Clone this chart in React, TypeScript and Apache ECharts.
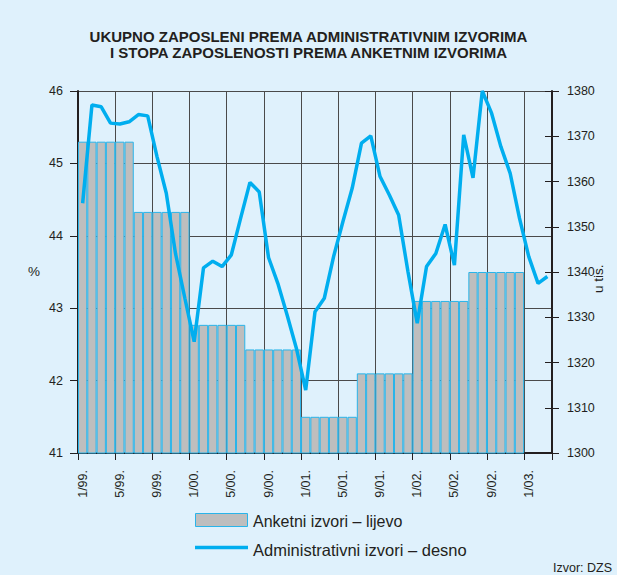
import React, { useEffect, useRef } from "react";
import * as echarts from "echarts";

const months = [
  "1/99.", "2/99.", "3/99.", "4/99.", "5/99.", "6/99.", "7/99.", "8/99.", "9/99.", "10/99.", "11/99.", "12/99.",
  "1/00.", "2/00.", "3/00.", "4/00.", "5/00.", "6/00.", "7/00.", "8/00.", "9/00.", "10/00.", "11/00.", "12/00.",
  "1/01.", "2/01.", "3/01.", "4/01.", "5/01.", "6/01.", "7/01.", "8/01.", "9/01.", "10/01.", "11/01.", "12/01.",
  "1/02.", "2/02.", "3/02.", "4/02.", "5/02.", "6/02.", "7/02.", "8/02.", "9/02.", "10/02.", "11/02.", "12/02.",
  "1/03.", "2/03.", "3/03.",
];

// Anketni izvori (%), left axis – one value per month (half-year survey)
const anketni = [
  45.3, 45.3, 45.3, 45.3, 45.3, 45.3, 44.33, 44.33, 44.33, 44.33, 44.33, 44.33,
  42.77, 42.77, 42.77, 42.77, 42.77, 42.77, 42.43, 42.43, 42.43, 42.43, 42.43, 42.43,
  41.5, 41.5, 41.5, 41.5, 41.5, 41.5, 42.1, 42.1, 42.1, 42.1, 42.1, 42.1,
  43.1, 43.1, 43.1, 43.1, 43.1, 43.1, 43.5, 43.5, 43.5, 43.5, 43.5, 43.5,
];

// Administrativni izvori (u tis.), right axis
const administrativni = [
  1355.2, 1376.9, 1376.5, 1372.9, 1372.7, 1373.2, 1374.8, 1374.5, 1365.5, 1357.4, 1344.0, 1334.2,
  1324.6, 1340.9, 1342.4, 1341.2, 1343.8, 1351.9, 1359.8, 1357.7, 1343.2, 1337.5, 1330.5, 1323.1,
  1313.9, 1331.2, 1334.2, 1343.4, 1351.1, 1358.5, 1368.5, 1370.1, 1361.1, 1357.0, 1352.6, 1340.1,
  1328.7, 1341.2, 1344.1, 1350.5, 1341.5, 1370.3, 1360.8, 1380.0, 1375.1, 1367.7, 1361.8, 1351.9,
  1343.4, 1337.5, 1339.0,
];

const titleLines = [
  "UKUPNO ZAPOSLENI PREMA ADMINISTRATIVNIM IZVORIMA",
  "I STOPA ZAPOSLENOSTI PREMA ANKETNIM IZVORIMA",
];
const seriesNames = ["Anketni izvori – lijevo", "Administrativni izvori – desno"];

const BG = "#dff1fc";
const DARK = "#231f20";
const GRID = "#4a4a4a";
const BLUE = "#00aeef";
const BAR_BORDER = "#2ab4e9";
const BAR_FILL = "#bebebe";
const FONT = "Liberation Sans";

export default function App() {
  const ref = useRef<HTMLDivElement>(null);

  useEffect(() => {
    document.body.style.margin = "0";
    document.body.style.background = BG;
    const chart = echarts.init(ref.current!, null, { renderer: "svg" });
    chart.setOption({
      animation: false,
      backgroundColor: BG,
      textStyle: { fontFamily: FONT },
      title: {
        text: titleLines.join("\n"),
        left: "center",
        top: 24,
        textStyle: {
          fontFamily: FONT,
          fontSize: 15,
          fontWeight: "bold",
          color: DARK,
          lineHeight: 15.5,
        },
      },
      grid: { left: 78, right: 65, top: 91, bottom: 122, containLabel: false },
      xAxis: {
        type: "category",
        data: months,
        boundaryGap: true,
        axisLine: { show: true, lineStyle: { color: DARK, width: 2 } },
        axisTick: { show: true, interval: 3, length: 7, lineStyle: { color: DARK, width: 1 } },
        axisLabel: {
          interval: 3,
          rotate: 90,
          margin: 17,
          fontSize: 12.5,
          color: DARK,
          fontFamily: FONT,
        },
        splitLine: { show: true, interval: 3, lineStyle: { color: GRID, width: 1 } },
      },
      yAxis: [
        {
          type: "value",
          min: 41,
          max: 46,
          interval: 1,
          position: "left",
          axisLine: { show: true, lineStyle: { color: DARK, width: 2 } },
          axisTick: { show: true, length: 8, lineStyle: { color: DARK } },
          axisLabel: { fontSize: 12.5, color: DARK, margin: 15, fontFamily: FONT },
          splitLine: { show: true, lineStyle: { color: GRID, width: 1 } },
        },
        {
          type: "value",
          min: 1300,
          max: 1380,
          interval: 10,
          position: "right",
          offset: 0,
          axisLine: { show: true, lineStyle: { color: DARK, width: 2 } },
          axisTick: { show: true, length: 7, lineStyle: { color: DARK } },
          axisLabel: {
            fontSize: 12.5,
            color: DARK,
            margin: 15,
            fontFamily: FONT,
            formatter: (v: number) => String(v),
          },
          splitLine: { show: false },
        },
        {
          type: "value",
          min: 1300,
          max: 1380,
          interval: 10,
          position: "right",
          offset: 0,
          axisLine: { show: false },
          axisTick: { show: true, inside: true, length: 7, lineStyle: { color: DARK } },
          axisLabel: { show: false },
          splitLine: { show: false },
        },
      ],
      graphic: [
        {
          type: "text",
          left: 28,
          top: 264,
          style: { text: "%", fontSize: 13.5, fill: DARK, fontFamily: FONT },
        },
        {
          type: "text",
          x: 591,
          y: 293,
          rotation: Math.PI / 2,
          style: { text: "u tis.", fontSize: 13.5, fill: DARK, fontFamily: FONT },
        },
        // legend
        {
          type: "rect",
          shape: { x: 195.5, y: 513.5, width: 52, height: 13 },
          style: { fill: BAR_FILL, stroke: BAR_BORDER, lineWidth: 1 },
        },
        {
          type: "text",
          x: 253,
          y: 521,
          style: {
            text: seriesNames[0],
            fontSize: 16,
            fill: DARK,
            fontFamily: FONT,
            verticalAlign: "middle",
          },
        },
        {
          type: "line",
          shape: { x1: 195, y1: 547.5, x2: 248, y2: 547.5 },
          style: { stroke: BLUE, lineWidth: 3.5 },
        },
        {
          type: "text",
          x: 253,
          y: 550,
          style: {
            text: seriesNames[1],
            fontSize: 16.5,
            fill: DARK,
            fontFamily: FONT,
            verticalAlign: "middle",
          },
        },
        {
          type: "text",
          right: 5,
          top: 561,
          style: { text: "Izvor: DZS", fontSize: 12.5, fill: DARK, fontFamily: FONT },
        },
      ],
      series: [
        {
          name: seriesNames[0],
          type: "bar",
          data: anketni,
          yAxisIndex: 0,
          barCategoryGap: "0%",
          itemStyle: { color: BAR_FILL, borderColor: BAR_BORDER, borderWidth: 1 },
          z: 2,
        },
        {
          name: seriesNames[1],
          type: "line",
          data: administrativni,
          yAxisIndex: 1,
          symbol: "none",
          showSymbol: false,
          clip: false,
          lineStyle: { color: BLUE, width: 3.5 },
          itemStyle: { color: BLUE },
          z: 3,
        },
      ],
    });
    return () => chart.dispose();
  }, []);

  return <div ref={ref} style={{ width: 617, height: 575, position: "absolute", left: 0, top: 0 }} />;
}
